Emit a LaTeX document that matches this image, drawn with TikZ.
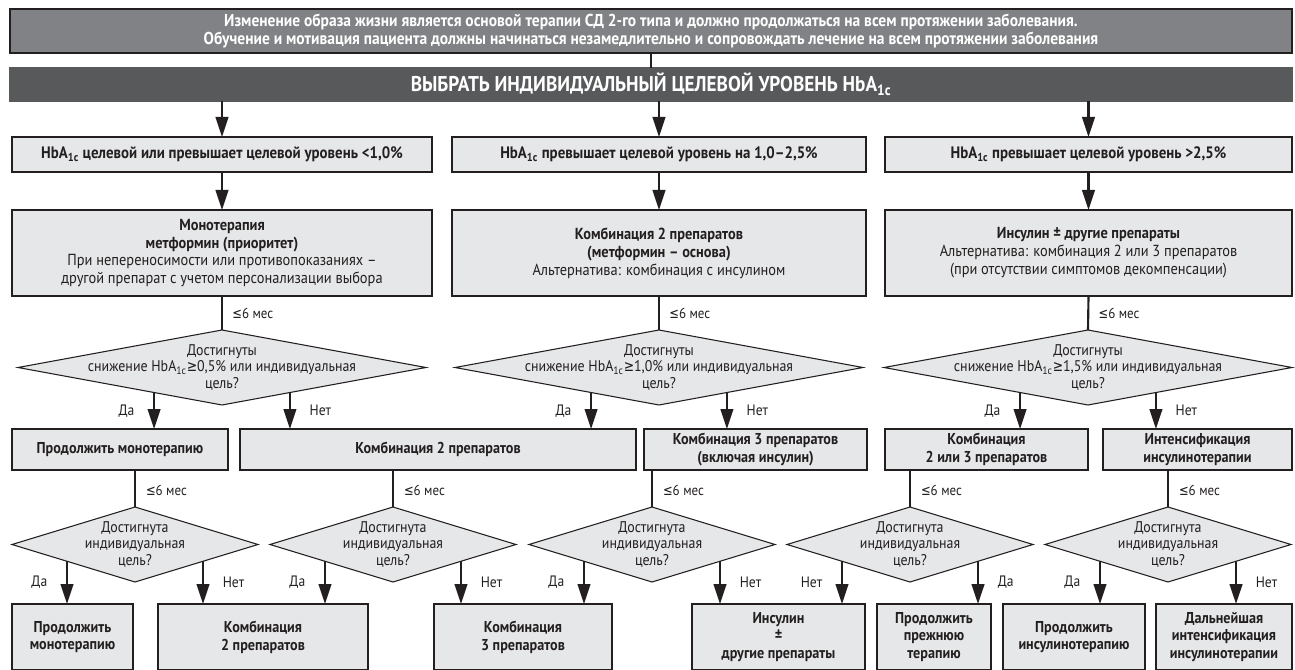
\documentclass[tikz,border=0pt]{standalone}
\usepackage{fontspec}
\setmainfont{PT Sans}[FakeStretch=0.9]
\newfontfamily\symf{DejaVu Sans}[FakeStretch=0.8]
\usetikzlibrary{shapes.geometric,arrows.meta,calc}
\definecolor{bgA}{HTML}{808285}
\definecolor{bgB}{HTML}{58595B}
\definecolor{boxf}{HTML}{E6E7E8}
\definecolor{ink}{HTML}{231F20}
\newcommand\HbAc{HbA\textsubscript{1c}}
\newcommand\myle{{\symf\char"2264}}
\newcommand\myge{{\symf\char"2265}}
\newcommand\mkbox[7][]{\node[box,#1,minimum width={(#5-#3)*0.75pt},minimum height={(#6-#4)*0.75pt}] (#2) at ({(#3+#5)/2},{(#4+#6)/2}) {#7};}
\newcommand\mkdia[6]{\node[dia,minimum width={#4*1.5pt},minimum height={#5*0.75pt}] (#1) at (#2,#3) {};\node[dtext] (#1t) at (#1.center) {#6};}
\newcommand\darr[7]{\coordinate (#1) at ($(#2.south)!#3!(#2.#4)$);\draw[arr] (#1) -- (#1 |- #5.north) node[lbl,pos=.5,#6=14pt]{#7};}
\tikzset{
  box/.style={draw=ink,line width=0.8pt,fill=boxf,inner sep=0pt,outer sep=0pt,align=center,text=ink,
    font=\fontsize{12}{13.4}\selectfont},
  bold/.style={font=\fontsize{11.8}{13.3}\selectfont\bfseries},
  boldA/.style={font=\fontsize{12.4}{13.3}\selectfont\bfseries},
  dia/.style={shape=diamond,draw=ink,line width=0.8pt,fill=boxf,inner sep=0pt,outer sep=0pt},
  dtext/.style={align=center,text=ink,inner sep=0pt,font=\fontsize{11.6}{12.6}\selectfont},
  arr/.style={draw=ink,line width=1.6pt,-{Triangle[length=15pt,width=9.5pt]}},
  ln/.style={draw=ink,line width=1.6pt},
  lbl/.style={inner sep=0pt,text=ink,font=\fontsize{11.3}{12}\selectfont},
  mes/.style={inner sep=0pt,text=ink,font=\fontsize{10.8}{12}\selectfont}
}
\begin{document}
\begin{tikzpicture}[x=0.75pt,y=-0.75pt]
\useasboundingbox (0,0) rectangle (1295,670);
\clip (0,0) rectangle (1295,670);
% banners
\mkbox[fill=bgA,text=white,font=\fontsize{12.9}{12.9}\selectfont\bfseries]{ban1}{10}{9}{1292}{53}{Изменение образа жизни является основой терапии СД 2-го типа и должно продолжаться на всем протяжении заболевания.\\Обучение и мотивация пациента должны начинаться незамедлительно и сопровождать лечение на всем протяжении заболевания}
\mkbox[fill=bgB,draw=bgB,text=white,font=\fontsize{16}{17}\selectfont\bfseries]{ban2}{10}{68}{1292}{101}{ВЫБРАТЬ ИНДИВИДУАЛЬНЫЙ ЦЕЛЕВОЙ УРОВЕНЬ \HbAc}
% row 1
\mkbox[boldA]{r1a}{12}{137}{432}{172}{\HbAc{} целевой или превышает целевой уровень <1,0\%}
\mkbox[boldA]{r1b}{452}{137}{866}{172}{\HbAc{} превышает целевой уровень на 1,0–2,5\%}
\mkbox[boldA]{r1c}{885}{137}{1292}{172}{\HbAc{} превышает целевой уровень >2,5\%}
% row 2
\mkbox{r2a}{12}{210}{432}{296}{\textbf{Монотерапия}\\\textbf{метформин (приоритет)}\\При непереносимости или противопоказаниях –\\другой препарат с учетом персонализации выбора}
\mkbox{r2b}{452}{210}{866}{296}{\textbf{Комбинация 2 препаратов}\\\textbf{(метформин – основа)}\\Альтернатива: комбинация с инсулином}
\mkbox{r2c}{885}{210}{1292}{296}{\textbf{Инсулин ± другие препараты}\\Альтернатива: комбинация 2 или 3 препаратов\\(при отсутствии симптомов декомпенсации)}
% diamonds 1
\mkdia{d1a}{222}{367.5}{204}{75}{Достигнуты\\снижение \HbAc\myge0,5\% или индивидуальная\\цель?}
\mkdia{d1b}{659}{367.5}{204}{75}{Достигнуты\\снижение \HbAc\myge1,0\% или индивидуальная\\цель?}
\mkdia{d1c}{1088}{367.5}{204}{75}{Достигнуты\\снижение \HbAc\myge1,5\% или индивидуальная\\цель?}
% row 3
\mkbox[bold]{r3a}{12}{429}{228}{470}{Продолжить монотерапию}
\mkbox[bold]{r3b}{240}{429}{636}{470}{Комбинация 2 препаратов}
\mkbox[bold]{r3c}{644}{429}{867}{470}{Комбинация 3 препаратов\\(включая инсулин)}
\mkbox[bold]{r3d}{885}{429}{1088}{470}{Комбинация\\2 или 3 препаратов}
\mkbox[bold]{r3e}{1103}{429}{1292}{470}{Интенсификация\\инсулинотерапии}
% diamonds 2
\mkdia{d2a}{135}{544.5}{123}{75}{Достигнута\\индивидуальная\\цель?}
\mkdia{d2b}{393}{544.5}{123}{75}{Достигнута\\индивидуальная\\цель?}
\mkdia{d2c}{652}{544.5}{123}{75}{Достигнута\\индивидуальная\\цель?}
\mkdia{d2d}{910}{544.5}{123}{75}{Достигнута\\индивидуальная\\цель?}
\mkdia{d2e}{1168}{544.5}{123}{75}{Достигнута\\индивидуальная\\цель?}
% bottom row
\mkbox[bold]{b1}{12}{604}{133}{670}{Продолжить\\монотерапию}
\mkbox[bold]{b2}{158}{604}{368}{670}{Комбинация\\2 препаратов}
\mkbox[bold]{b3}{434}{604}{612}{670}{Комбинация\\3 препаратов}
\mkbox[bold]{b4}{692}{604}{865}{670}{Инсулин\\±\\другие препараты}
\mkbox[bold]{b5}{877}{604}{991}{670}{Продолжить\\прежнюю\\терапию}
\mkbox[bold]{b6}{1003}{604}{1145}{670}{Продолжить\\инсулинотерапию}
\mkbox[bold]{b7}{1156}{604}{1292}{670}{Дальнейшая\\интенсификация\\инсулинотерапии}
% connectors top
\draw[ln] (ban1.south) -- (ban2.north);
\draw[arr] (ban2.south -| r1a.north) -- (r1a.north);
\draw[arr] (ban2.south -| r1b.north) -- (r1b.north);
\draw[arr] (ban2.south -| r1c.north) -- (r1c.north);
\draw[arr] (r1a.south) -- (r2a.north);
\draw[arr] (r1b.south) -- (r2b.north);
\draw[arr] (r1c.south) -- (r2c.north);
\draw[ln] (r2a.south) -- (d1a.north) node[mes,pos=.5,right=7pt]{\myle6 мес};
\draw[ln] (r2b.south) -- (d1b.north) node[mes,pos=.5,right=7pt]{\myle6 мес};
\draw[ln] (r2c.south) -- (d1c.north) node[mes,pos=.5,right=7pt]{\myle6 мес};
% diamond 1 outputs
\darr{p1}{d1a}{0.333}{west}{r3a}{left}{Да}
\darr{p2}{d1a}{0.333}{east}{r3b}{right}{Нет}
\darr{p3}{d1b}{0.333}{west}{r3b}{left}{Да}
\darr{p4}{d1b}{0.333}{east}{r3c}{right}{Нет}
\darr{p5}{d1c}{0.333}{west}{r3d}{left}{Да}
\darr{p6}{d1c}{0.333}{east}{r3e}{right}{Нет}
% row 3 to diamonds 2
\draw[ln] (d2a.north |- r3a.south) -- (d2a.north) node[mes,pos=.55,right=7.5pt]{\myle6 мес};
\draw[ln] (d2b.north |- r3b.south) -- (d2b.north) node[mes,pos=.55,right=7.5pt]{\myle6 мес};
\draw[ln] (d2c.north |- r3c.south) -- (d2c.north) node[mes,pos=.55,right=7.5pt]{\myle6 мес};
\draw[ln] (d2d.north |- r3d.south) -- (d2d.north) node[mes,pos=.55,right=7.5pt]{\myle6 мес};
\draw[ln] (d2e.north |- r3e.south) -- (d2e.north) node[mes,pos=.55,right=7.5pt]{\myle6 мес};
% diamond 2 outputs
\darr{q1}{d2a}{0.553}{west}{b1}{left}{Да}
\darr{q2}{d2a}{0.553}{east}{b2}{right}{Нет}
\darr{q3}{d2b}{0.553}{west}{b2}{left}{Да}
\darr{q4}{d2b}{0.553}{east}{b3}{right}{Нет}
\darr{q5}{d2c}{0.553}{west}{b3}{left}{Да}
\darr{q6}{d2c}{0.553}{east}{b4}{right}{Нет}
\darr{q7}{d2d}{0.553}{west}{b4}{left}{Нет}
\darr{q8}{d2d}{0.553}{east}{b5}{right}{Да}
\darr{q9}{d2e}{0.553}{west}{b6}{left}{Да}
\darr{q10}{d2e}{0.553}{east}{b7}{right}{Нет}
\end{tikzpicture}
\end{document}
